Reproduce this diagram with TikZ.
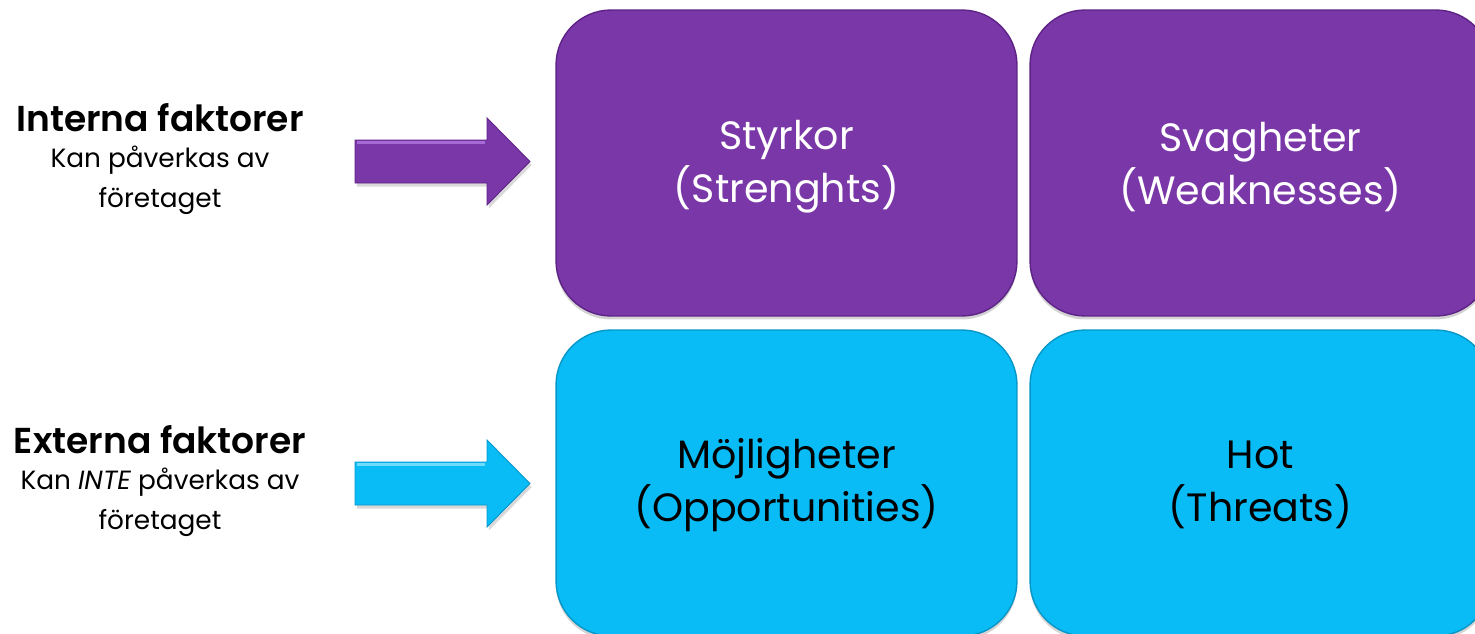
\documentclass[tikz,border=0pt]{standalone}
\usepackage{fontspec}
\setmainfont{Poppins}[BoldFont={Poppins SemiBold}]
\usetikzlibrary{shadows}
\definecolor{swpurple}{HTML}{7A37A8}
\definecolor{swpurpledark}{HTML}{5E2386}
\definecolor{swpurplelight}{HTML}{A56AD6}
\definecolor{swcyan}{HTML}{0ABCF5}
\definecolor{swcyandark}{HTML}{0796C8}
\definecolor{swcyanlight}{HTML}{6FDBFF}
\tikzset{
  quad/.style={rounded corners=1.1cm, minimum width=9.22cm, minimum height=6.12cm,
    inner sep=0pt, align=center, text=white, font=\fontsize{22.5}{30}\selectfont,
    drop shadow={shadow xshift=0pt, shadow yshift=-2pt, opacity=0.35}},
  quadp/.style={quad, fill=swpurple, draw=swpurpledark, line width=0.8pt},
  quadc/.style={quad, fill=swcyan, draw=swcyandark, line width=0.8pt, text=black},
  boxlabel/.style={align=center, inner sep=0pt, font=\fontsize{22.5}{30}\selectfont},
  blockarrow/.style={line width=0.5pt, line join=miter,
    drop shadow={shadow xshift=1pt, shadow yshift=-2pt, opacity=0.3}},
  heading/.style={align=center, font=\fontsize{20.5}{24}\selectfont\bfseries},
  subtext/.style={align=center, font=\fontsize{15}{23}\selectfont},
}
\begin{document}
\begin{tikzpicture}[x=0.02cm,y=-0.02cm]
\useasboundingbox (0,0) rectangle (1475,633);
\begin{scope}
\clip (0,0) rectangle (1475,633);
\node[quadp] (S) at (786.5,163) {};
\node[quadp] (W) at (1260.5,163) {};
\node[quadc] (O) at (786.5,483) {};
\node[quadc] (T) at (1260.5,483) {};
\end{scope}
\node[boxlabel, text=white] (Sl) at (786.5,167) {Styrkor\\(Strenghts)};
\node[boxlabel, text=white] (Wl) at (1260.5,167) {Svagheter\\(Weaknesses)};
\node[boxlabel, text=black] (Ol) at (786.5,485) {Möjligheter\\(Opportunities)};
\node[boxlabel, text=black] (Tl) at (1260.5,485) {Hot\\(Threats)};
% block arrows
\coordinate (A1) at (355,161.5);
\draw[blockarrow, fill=swpurple, draw=swpurpledark]
  (355,140) -- (487,140) -- (487,118) -- (530,161.5) -- (487,205) -- (487,183) -- (355,183) -- cycle;
\draw[swpurplelight, line width=1.5pt] (357,142.5) -- (485,142.5);
\coordinate (A2) at (355,483.5);
\draw[blockarrow, fill=swcyan, draw=swcyandark]
  (355,462) -- (487,462) -- (487,440) -- (530,483.5) -- (487,527) -- (487,505) -- (355,505) -- cycle;
\draw[swcyanlight, line width=1.5pt] (357,464.5) -- (485,464.5);
\node[heading] (IH) at (160,118) {Interna faktorer};
\node[subtext] (IS) at (160,180) {Kan påverkas av\\företaget};
\node[heading] (EH) at (160,440) {Externa faktorer};
\node[subtext] (ES) at (160,502) {Kan \textit{INTE} påverkas av\\företaget};
\end{tikzpicture}
\end{document}
